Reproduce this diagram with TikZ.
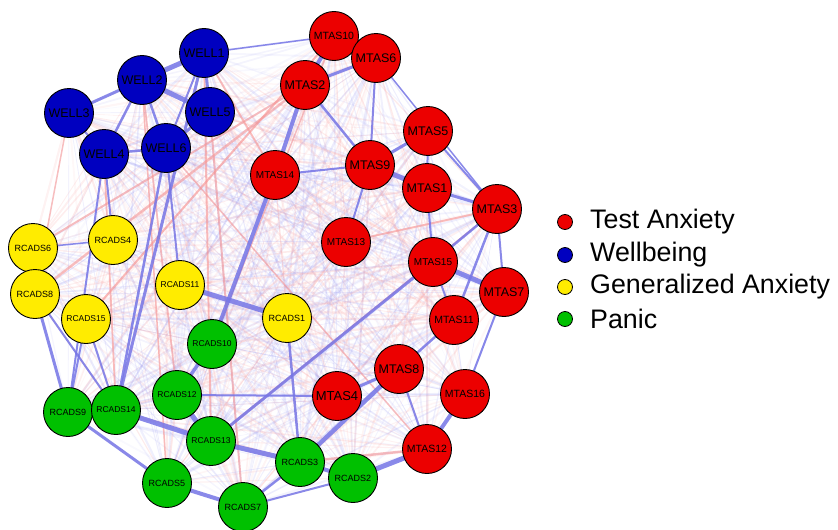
\documentclass[tikz,border=0pt]{standalone}
\usepackage{fontspec}
\setmainfont{Liberation Sans}
\pgfdeclarelayer{bg}
\pgfsetlayers{bg,main}
\definecolor{nred}{RGB}{236,0,0}
\definecolor{nblue}{RGB}{0,0,192}
\definecolor{nyellow}{RGB}{255,236,0}
\definecolor{ngreen}{RGB}{0,192,0}
\definecolor{eblue}{RGB}{118,118,230}
\definecolor{fblue}{RGB}{150,150,240}
\definecolor{ered}{RGB}{246,150,150}
\newcommand\myfs[1]{\fontsize{#1}{#1}\selectfont}
\tikzset{
  tnode/.style={circle, draw=black, line width=0.9pt, minimum size=49pt, inner sep=0pt, text=black},
  posedge/.style={draw=eblue, line width=#1, opacity=0.85},
  negedge/.style={draw=ered, line width=#1, opacity=0.6},
  legdot/.style={circle, draw=black, line width=0.8pt, minimum size=15pt, inner sep=0pt},
  legtext/.style={anchor=west, inner sep=0pt, font=\myfs{26.8}}
}
\begin{document}
\begin{tikzpicture}[x=1pt,y=-1pt]
\useasboundingbox (0,0) rectangle (838,530);
% Wellbeing
\node[tnode, fill=nblue, font=\myfs{12.5}] (WELL1) at (204,53) {WELL1};
\node[tnode, fill=nblue, font=\myfs{12.5}] (WELL2) at (142,80) {WELL2};
\node[tnode, fill=nblue, font=\myfs{12.5}] (WELL3) at (69,113) {WELL3};
\node[tnode, fill=nblue, font=\myfs{12.5}] (WELL5) at (210,112) {WELL5};
\node[tnode, fill=nblue, font=\myfs{12.5}] (WELL4) at (104,154) {WELL4};
\node[tnode, fill=nblue, font=\myfs{12.5}] (WELL6) at (166,148) {WELL6};
% Test anxiety
\node[tnode, fill=nred, font=\myfs{10.5}] (MTAS10) at (334,36) {MTAS10};
\node[tnode, fill=nred, font=\myfs{12.5}] (MTAS6) at (376,58) {MTAS6};
\node[tnode, fill=nred, font=\myfs{12.5}] (MTAS2) at (305,85) {MTAS2};
\node[tnode, fill=nred, font=\myfs{10}] (MTAS14) at (275,175) {MTAS14};
\node[tnode, fill=nred, font=\myfs{12.5}] (MTAS9) at (370,165) {MTAS9};
\node[tnode, fill=nred, font=\myfs{12.5}] (MTAS5) at (428,131) {MTAS5};
\node[tnode, fill=nred, font=\myfs{12.5}] (MTAS1) at (427,188) {MTAS1};
\node[tnode, fill=nred, font=\myfs{12.5}] (MTAS3) at (497,209) {MTAS3};
\node[tnode, fill=nred, font=\myfs{10}] (MTAS13) at (346,242) {MTAS13};
\node[tnode, fill=nred, font=\myfs{10}] (MTAS15) at (433,262) {MTAS15};
\node[tnode, fill=nred, font=\myfs{12.5}] (MTAS7) at (504,292) {MTAS7};
\node[tnode, fill=nred, font=\myfs{10.5}] (MTAS11) at (454,320) {MTAS11};
\node[tnode, fill=nred, font=\myfs{12.5}] (MTAS8) at (399,369) {MTAS8};
\node[tnode, fill=nred, font=\myfs{13}] (MTAS4) at (337,396) {MTAS4};
\node[tnode, fill=nred, font=\myfs{10.5}] (MTAS16) at (465,394) {MTAS16};
\node[tnode, fill=nred, font=\myfs{10.5}] (MTAS12) at (427,449) {MTAS12};
% Generalized anxiety
\node[tnode, fill=nyellow, font=\myfs{9}] (RCADS6) at (33,248) {RCADS6};
\node[tnode, fill=nyellow, font=\myfs{9}] (RCADS4) at (113,240) {RCADS4};
\node[tnode, fill=nyellow, font=\myfs{9}] (RCADS8) at (35,294) {RCADS8};
\node[tnode, fill=nyellow, font=\myfs{8.5}] (RCADS15) at (86,319) {RCADS15};
\node[tnode, fill=nyellow, font=\myfs{8.5}] (RCADS11) at (180,285) {RCADS11};
\node[tnode, fill=nyellow, font=\myfs{9}] (RCADS1) at (287,318) {RCADS1};
% Panic
\node[tnode, fill=ngreen, font=\myfs{8.5}] (RCADS10) at (212,344) {RCADS10};
\node[tnode, fill=ngreen, font=\myfs{8.5}] (RCADS12) at (177,395) {RCADS12};
\node[tnode, fill=ngreen, font=\myfs{9}] (RCADS9) at (68,412) {RCADS9};
\node[tnode, fill=ngreen, font=\myfs{8.5}] (RCADS14) at (116,410) {RCADS14};
\node[tnode, fill=ngreen, font=\myfs{8.5}] (RCADS13) at (211,441) {RCADS13};
\node[tnode, fill=ngreen, font=\myfs{9}] (RCADS5) at (167,483) {RCADS5};
\node[tnode, fill=ngreen, font=\myfs{9}] (RCADS7) at (243,507) {RCADS7};
\node[tnode, fill=ngreen, font=\myfs{9}] (RCADS3) at (300,462) {RCADS3};
\node[tnode, fill=ngreen, font=\myfs{9}] (RCADS2) at (353,478) {RCADS2};
% Legend
\node[legdot, fill=nred] (L1) at (565,222) {};
\node[legdot, fill=nblue] (L2) at (565,255) {};
\node[legdot, fill=nyellow] (L3) at (565,287) {};
\node[legdot, fill=ngreen] (L4) at (565,319) {};
\node[legtext] (T1) at (590,222) {Test Anxiety};
\node[legtext] (T2) at (590,255) {Wellbeing};
\node[legtext] (T3) at (590,287) {Generalized Anxiety};
\node[legtext] (T4) at (590,319) {Panic};
\begin{pgfonlayer}{bg}
\pgfmathsetseed{7}
\def\allnodes{WELL1,WELL2,WELL3,WELL4,WELL5,WELL6,MTAS1,MTAS2,MTAS3,MTAS4,MTAS5,MTAS6,MTAS7,MTAS8,MTAS9,MTAS10,MTAS11,MTAS12,MTAS13,MTAS14,MTAS15,MTAS16,RCADS1,RCADS2,RCADS3,RCADS4,RCADS5,RCADS6,RCADS7,RCADS8,RCADS9,RCADS10,RCADS11,RCADS12,RCADS13,RCADS14,RCADS15}
\foreach \a [count=\i] in \allnodes {
  \foreach \b [count=\j] in \allnodes {
    \ifnum\j>\i
      \pgfmathsetmacro{\r}{rnd}
      \pgfmathsetmacro{\w}{0.5+1.8*rnd}
      \pgfmathsetmacro{\op}{0.05+0.15*rnd}
      \ifdim\r pt<0.42pt
        \draw[draw=ered, line width=\w pt, opacity=\op] (\a.center) -- (\b.center);
      \else
        \draw[draw=fblue, line width=\w pt, opacity=\op] (\a.center) -- (\b.center);
      \fi
    \fi
  }
}
% negative (red) edges
\draw[negedge=2.5pt] (MTAS2.center) -- (RCADS8.center);
\draw[negedge=2pt] (MTAS2.center) -- (RCADS6.center);
\draw[negedge=2pt] (MTAS10.center) -- (RCADS15.center);
\draw[negedge=2pt] (WELL5.center) -- (RCADS7.center);
\draw[negedge=2pt] (WELL1.center) -- (RCADS13.center);
\draw[negedge=1.8pt] (WELL2.center) -- (RCADS12.center);
\draw[negedge=1.8pt] (WELL4.center) -- (RCADS14.center);
\draw[negedge=1.8pt] (WELL1.center) -- (MTAS14.center);
\draw[negedge=2.5pt] (RCADS3.center) -- (MTAS12.center);
\draw[negedge=1.8pt] (MTAS3.center) -- (RCADS13.center);
\draw[negedge=1.8pt] (MTAS3.center) -- (MTAS13.center);
\draw[negedge=1.5pt] (WELL6.center) -- (MTAS12.center);
\draw[negedge=1.5pt] (WELL2.center) -- (RCADS5.center);
\draw[negedge=1.5pt] (MTAS10.center) -- (RCADS10.center);
\draw[negedge=1.5pt] (WELL3.center) -- (RCADS8.center);
% positive (blue) edges
\draw[posedge=5pt] (WELL1.center) -- (WELL2.center);
\draw[posedge=5pt] (WELL2.center) -- (WELL5.center);
\draw[posedge=3pt] (WELL2.center) -- (WELL3.center);
\draw[posedge=3pt] (WELL1.center) -- (WELL5.center);
\draw[posedge=3pt] (WELL5.center) -- (WELL6.center);
\draw[posedge=2.5pt] (WELL4.center) -- (WELL6.center);
\draw[posedge=2.5pt] (WELL2.center) -- (WELL6.center);
\draw[posedge=2pt] (WELL3.center) -- (WELL4.center);
\draw[posedge=2.5pt] (WELL2.center) -- (WELL4.center);
\draw[posedge=2pt] (WELL1.center) -- (WELL6.center);
\draw[posedge=3pt] (WELL1.center) -- (RCADS14.center);
\draw[posedge=2.5pt] (WELL6.center) -- (RCADS14.center);
\draw[posedge=2pt] (WELL4.center) -- (RCADS9.center);
\draw[posedge=1.5pt] (WELL1.center) -- (MTAS10.center);
\draw[posedge=4pt] (MTAS10.center) -- (MTAS2.center);
\draw[posedge=3pt] (MTAS2.center) -- (MTAS6.center);
\draw[posedge=2pt] (MTAS10.center) -- (MTAS6.center);
\draw[posedge=4pt] (MTAS2.center) -- (MTAS14.center);
\draw[posedge=4pt] (MTAS14.center) -- (RCADS10.center);
\draw[posedge=5pt] (MTAS9.center) -- (MTAS1.center);
\draw[posedge=3pt] (MTAS9.center) -- (MTAS5.center);
\draw[posedge=2pt] (MTAS5.center) -- (MTAS1.center);
\draw[posedge=3pt] (MTAS1.center) -- (MTAS3.center);
\draw[posedge=2pt] (MTAS6.center) -- (MTAS9.center);
\draw[posedge=2.5pt] (MTAS2.center) -- (MTAS9.center);
\draw[posedge=2pt] (MTAS14.center) -- (MTAS9.center);
\draw[posedge=2pt] (MTAS5.center) -- (MTAS3.center);
\draw[posedge=1.5pt] (MTAS6.center) -- (MTAS3.center);
\draw[posedge=5pt] (MTAS15.center) -- (MTAS7.center);
\draw[posedge=2.5pt] (MTAS15.center) -- (MTAS3.center);
\draw[posedge=2.5pt] (MTAS3.center) -- (MTAS11.center);
\draw[posedge=2pt] (MTAS3.center) -- (MTAS7.center);
\draw[posedge=2pt] (MTAS1.center) -- (MTAS15.center);
\draw[posedge=2pt] (MTAS15.center) -- (MTAS11.center);
\draw[posedge=2.5pt] (MTAS11.center) -- (MTAS8.center);
\draw[posedge=2pt] (MTAS7.center) -- (MTAS16.center);
\draw[posedge=4pt] (MTAS16.center) -- (MTAS12.center);
\draw[posedge=3pt] (MTAS8.center) -- (MTAS4.center);
\draw[posedge=4.5pt] (MTAS8.center) -- (RCADS3.center);
\draw[posedge=5pt] (MTAS12.center) -- (RCADS2.center);
\draw[posedge=2pt] (MTAS12.center) -- (MTAS8.center);
\draw[posedge=2pt] (MTAS13.center) -- (MTAS9.center);
\draw[posedge=5pt] (RCADS1.center) -- (RCADS11.center);
\draw[posedge=2.5pt] (RCADS1.center) -- (RCADS3.center);
\draw[posedge=3.5pt] (RCADS10.center) -- (RCADS12.center);
\draw[posedge=5pt] (RCADS12.center) -- (RCADS13.center);
\draw[posedge=5pt] (RCADS14.center) -- (RCADS13.center);
\draw[posedge=5pt] (RCADS13.center) -- (RCADS3.center);
\draw[posedge=4pt] (RCADS3.center) -- (RCADS2.center);
\draw[posedge=3pt] (RCADS9.center) -- (RCADS5.center);
\draw[posedge=4pt] (RCADS5.center) -- (RCADS7.center);
\draw[posedge=2.5pt] (RCADS7.center) -- (RCADS3.center);
\draw[posedge=2pt] (RCADS7.center) -- (RCADS2.center);
\draw[posedge=3pt] (RCADS9.center) -- (RCADS8.center);
\draw[posedge=2pt] (RCADS9.center) -- (RCADS15.center);
\draw[posedge=2pt] (RCADS14.center) -- (RCADS15.center);
\draw[posedge=2pt] (RCADS6.center) -- (RCADS8.center);
\draw[posedge=1.5pt] (RCADS6.center) -- (RCADS4.center);
\draw[posedge=3pt] (RCADS13.center) -- (MTAS15.center);
\draw[posedge=2pt] (RCADS12.center) -- (MTAS4.center);
\draw[posedge=2pt] (RCADS11.center) -- (WELL6.center);
\draw[posedge=2pt] (RCADS14.center) -- (RCADS8.center);
\draw[posedge=2pt] (RCADS4.center) -- (WELL4.center);
\end{pgfonlayer}
\end{tikzpicture}
\end{document}
